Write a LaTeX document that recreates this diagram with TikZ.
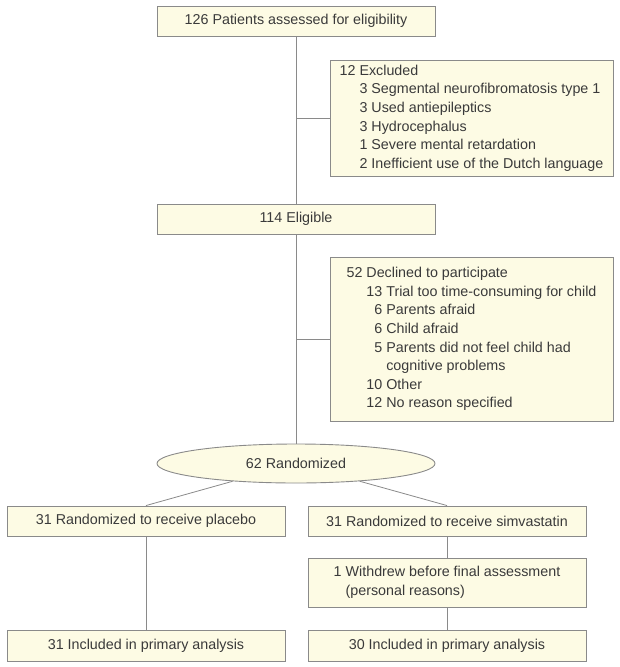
\documentclass[tikz,border=0pt]{standalone}
\usepackage{fontspec}
\setmainfont{Liberation Sans}
\usetikzlibrary{shapes.geometric}
\definecolor{boxfill}{HTML}{FDFBE4}
\definecolor{boxline}{HTML}{8A8A8A}
\definecolor{txtgray}{HTML}{3A3A3A}
\newcommand{\flowfont}{\fontsize{14.3}{18.6}\selectfont}
\tikzset{
  flowbox/.style={draw=boxline, fill=boxfill, line width=0.9pt, text=txtgray,
    minimum width=278pt, minimum height=30pt, inner sep=0pt, font=\flowfont},
  sidebox/.style={flowbox, minimum width=283pt},
  randbox/.style={flowbox, ellipse, minimum height=39pt},
  link/.style={draw=boxline, line width=0.8pt}
}
\begin{document}
\begin{tikzpicture}[x=1pt,y=-1pt]
\useasboundingbox (0,0) rectangle (620,667);

% enrolment
\node[flowbox] (assessed) at (296,21) {126 Patients assessed for eligibility};
\node[sidebox, minimum height=116pt] (excluded) at (471.5,118) {%
  \begin{tabular}{@{}l@{\ }r@{\ }l@{}}
  12 & \multicolumn{2}{@{}l@{}}{Excluded}\\
     & 3 & Segmental neurofibromatosis type 1\\
     & 3 & Used antiepileptics\\
     & 3 & Hydrocephalus\\
     & 1 & Severe mental retardation\\
     & 2 & Inefficient use of the Dutch language
  \end{tabular}};
\node[flowbox] (eligible) at (296,219) {114 Eligible};
\node[sidebox, minimum height=164pt] (declined) at (471.5,339) {%
  \begin{tabular}{@{}l@{\ }r@{\ }l@{}}
  52 & \multicolumn{2}{@{}l@{}}{Declined to participate}\\
     & 13 & Trial too time-consuming for child\\
     & 6 & Parents afraid\\
     & 6 & Child afraid\\
     & 5 & Parents did not feel child had\\
     &   & cognitive problems\\
     & 10 & Other\\
     & 12 & No reason specified
  \end{tabular}};
\node[randbox] (rand) at (296,463.5) {62 Randomized};

% allocation
\node[flowbox] (placebo) at (146,521) {31 Randomized to receive placebo};
\node[flowbox] (simva) at (447,521) {31 Randomized to receive simvastatin};
\node[flowbox, minimum height=49pt] (withdrew) at (447,582.5) {%
  \begin{tabular}{@{}l@{\ }l@{}}
  1 & Withdrew before final assessment\\
    & (personal reasons)
  \end{tabular}};

% analysis
\node[flowbox, minimum height=31pt] (inclPlacebo) at (146,645.5) {31 Included in primary analysis};
\node[flowbox, minimum height=31pt] (inclSimva) at (447,645.5) {30 Included in primary analysis};

% connectors
\coordinate (exclJoin) at (assessed.south |- excluded.west);
\coordinate (declJoin) at (eligible.south |- declined.west);
\draw[link] (assessed) -- (eligible);
\draw[link] (exclJoin) -- (excluded.west);
\draw[link] (eligible) -- (rand);
\draw[link] (declJoin) -- (declined.west);
\draw[link] (rand) -- (placebo.north);
\draw[link] (rand) -- (simva.north);
\draw[link] (placebo) -- (inclPlacebo);
\draw[link] (simva) -- (withdrew);
\draw[link] (withdrew) -- (inclSimva);
\end{tikzpicture}
\end{document}
